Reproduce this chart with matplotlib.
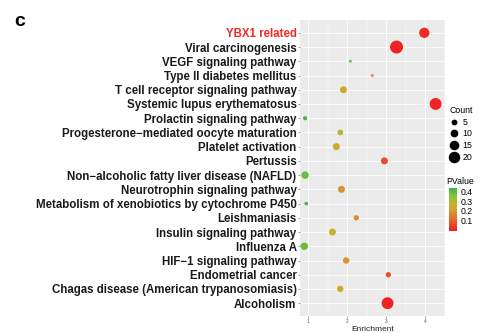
import matplotlib
matplotlib.use("Agg")
import matplotlib.pyplot as plt
from matplotlib.colors import LinearSegmentedColormap, Normalize
from matplotlib.lines import Line2D
import matplotlib as mpl

# pathway terms, top to bottom
terms = [
    "YBX1 related",
    "Viral carcinogenesis",
    "VEGF signaling pathway",
    "Type II diabetes mellitus",
    "T cell receptor signaling pathway",
    "Systemic lupus erythematosus",
    "Prolactin signaling pathway",
    "Progesterone\u2212mediated oocyte maturation",
    "Platelet activation",
    "Pertussis",
    "Non\u2212alcoholic fatty liver disease (NAFLD)",
    "Neurotrophin signaling pathway",
    "Metabolism of xenobiotics by cytochrome P450",
    "Leishmaniasis",
    "Insulin signaling pathway",
    "Influenza A",
    "HIF\u22121 signaling pathway",
    "Endometrial cancer",
    "Chagas disease (American trypanosomiasis)",
    "Alcoholism",
]
enrichment = [3.97, 3.26, 2.08, 2.64, 1.90, 4.26, 0.92, 1.82, 1.72, 2.95,
              0.92, 1.85, 0.95, 2.23, 1.62, 0.90, 1.97, 3.05, 1.82, 3.03]
count = [15, 20, 2, 2, 9, 18, 4, 7, 9, 9,
         10, 9, 3, 6, 9, 10, 8, 6, 8, 18]
pvalue = [0.02, 0.01, 0.36, 0.20, 0.23, 0.01, 0.42, 0.30, 0.24, 0.07,
          0.38, 0.19, 0.42, 0.18, 0.28, 0.38, 0.19, 0.07, 0.25, 0.01]
legend_counts = [5, 10, 15, 20]
cbar_ticks = [0.1, 0.2, 0.3, 0.4]

plt.rcParams["font.family"] = ["Liberation Sans", "DejaVu Sans"]

cmap = LinearSegmentedColormap.from_list(
    "pv", [(0, "#F01E23"), (0.3, "#E5702A"), (0.5, "#D7A22A"),
           (0.65, "#C2B42C"), (0.82, "#86C23E"), (1, "#3DB54A")])
norm = Normalize(vmin=0.0, vmax=0.43)

fig = plt.figure(figsize=(4.88, 3.33), dpi=100)
W, H = 488, 333
ax = fig.add_axes([300 / W, 1 - 316 / H, 145 / W, 296 / H])
ax.set_facecolor("#EBEBEB")

ypos = list(range(len(terms)))[::-1]
# diameter in px -> marker area in pt^2
sizes = [((2 + 0.55 * c) * 0.72) ** 2 for c in count]
ax.scatter(enrichment, ypos, s=sizes, c=pvalue, cmap=cmap, norm=norm,
           edgecolors="none", zorder=3)

ax.set_xlim(0.79, 4.5)
ax.set_ylim(-0.9, len(terms) - 0.1)
ax.set_xticks([1, 2, 3, 4])
ax.set_xticks([1.5, 2.5, 3.5, 4.5], minor=True)
ax.set_yticks(ypos)
ax.set_yticklabels(terms, fontsize=8.3, fontweight="bold", color="#1A1A1A")
ax.get_yticklabels()[0].set_color("#EE2A2A")
ax.tick_params(axis="y", length=1.5, width=0.4, color="#555555", pad=1)
ax.tick_params(axis="x", which="major", labelsize=3.5, length=1.5, width=0.4,
               color="#555555", labelcolor="#555555", pad=1)
ax.tick_params(axis="x", which="minor", length=0)
ax.grid(True, which="major", color="white", linewidth=0.6, zorder=0)
ax.grid(True, which="minor", axis="x", color="white", linewidth=0.3, zorder=0)
ax.set_axisbelow(True)
for sp in ax.spines.values():
    sp.set_visible(False)
ax.set_xlabel("Enrichment", fontsize=6, color="#222222", labelpad=1)

fig.text(14 / W, 1 - 22 / H, "c", fontsize=14, fontweight="bold",
         ha="left", va="center")

# Count legend
handles = [Line2D([], [], marker="o", linestyle="none", color="black",
                  markersize=(2.5 + 0.38 * c) * 0.72) for c in legend_counts]
fig.legend(handles, [str(c) for c in legend_counts], title="Count",
           loc="upper left", bbox_to_anchor=(443 / W, 1 - 100 / H),
           frameon=False, fontsize=6.3, title_fontsize=6.3,
           handletextpad=0.3, labelspacing=0.3, borderpad=0.2,
           handlelength=1.2, alignment="left")

# PValue colour bar
cax = fig.add_axes([449 / W, 1 - 231 / H, 8 / W, 43 / H])
cb = mpl.colorbar.ColorbarBase(cax, cmap=cmap, norm=norm, ticks=cbar_ticks)
cb.outline.set_visible(False)
cax.tick_params(labelsize=6.3, length=1.5, width=0.4, color="white", pad=1)
fig.text(446 / W, 1 - 181 / H, "PValue", fontsize=6.3, ha="left", va="center")

fig.savefig("out.png", dpi=100)
